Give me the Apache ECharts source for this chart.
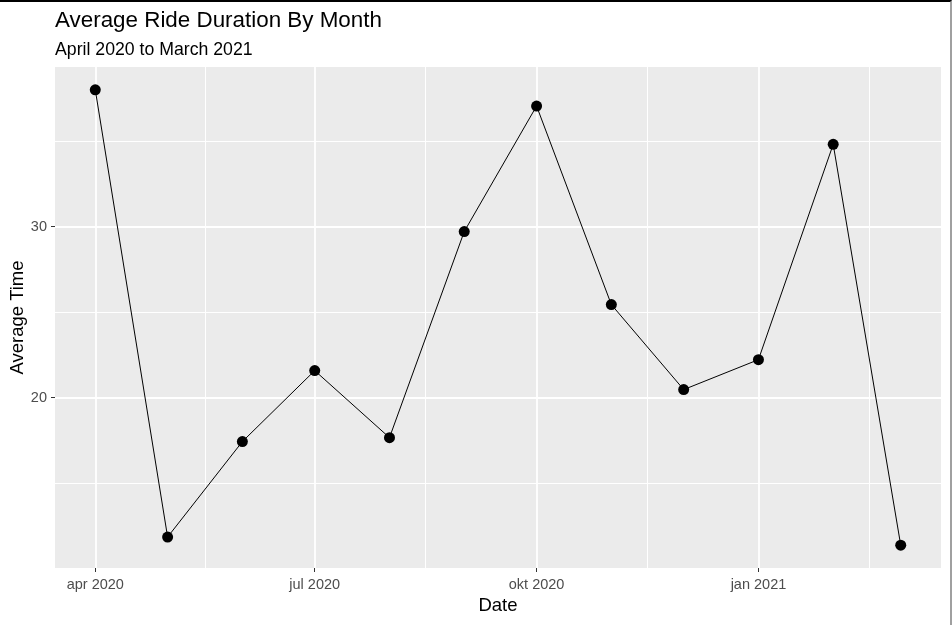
<!DOCTYPE html>
<html>
<head>
<meta charset="utf-8">
<script src="https://cdn.jsdelivr.net/npm/echarts@6/dist/echarts.min.js"></script>
<style>
html,body{margin:0;padding:0;background:#fff;}
#wrap{position:absolute;left:0;top:0;width:952px;height:625px;box-sizing:border-box;border-top:2px solid #000;border-right:2px solid #a0a0a0;}
#chart{position:absolute;left:0;top:0;width:952px;height:625px;}
</style>
</head>
<body>
<div id="wrap"></div>
<div id="chart"></div>
<script>
// ---- data ----
var months = ['2020-04-01','2020-05-01','2020-06-01','2020-07-01','2020-08-01','2020-09-01',
              '2020-10-01','2020-11-01','2020-12-01','2021-01-01','2021-02-01','2021-03-01'];
var avgTime = [38.0, 11.85, 17.43, 21.58, 17.66, 29.71, 37.05, 25.44, 20.47, 22.22, 34.81, 11.37];
var xBreaks = ['2020-04-01','2020-07-01','2020-10-01','2021-01-01'];
var xBreakLabels = ['apr 2020','jul 2020','okt 2020','jan 2021'];
var yBreaks = [20, 30];
var yMinorBreaks = [15, 25, 35];

function ts(d){ return Date.UTC(+d.slice(0,4), +d.slice(5,7)-1, +d.slice(8,10)); }
var xs = months.map(ts);
var xb = xBreaks.map(ts);
// minor x breaks: midpoints between major breaks
var xMinor = [];
for (var i=0;i<xb.length-1;i++) xMinor.push((xb[i]+xb[i+1])/2);
xMinor.push(xb[xb.length-1] + (xb[xb.length-1]-xb[xb.length-2])/2);

// ggplot-style 5% expansion
var xRange = xs[xs.length-1]-xs[0];
var xMin = xs[0]-0.05*xRange, xMax = xs[xs.length-1]+0.05*xRange;
var yLo = Math.min.apply(null,avgTime), yHi = Math.max.apply(null,avgTime);
var yMin = yLo-0.05*(yHi-yLo), yMax = yHi+0.05*(yHi-yLo);

var labelMap = {};
xb.forEach(function(v,i){ labelMap[v]=xBreakLabels[i]; });

var chart = echarts.init(document.getElementById('chart'), null, {renderer:'canvas'});
var font = 'Liberation Sans, Arial, sans-serif';

var gridLines = [];
xMinor.forEach(function(v){ gridLines.push({xAxis:v, lineStyle:{color:'#fff', width:1, type:'solid'}}); });
yMinorBreaks.forEach(function(v){ gridLines.push({yAxis:v, lineStyle:{color:'#fff', width:1, type:'solid'}}); });
xb.forEach(function(v){ gridLines.push({xAxis:v, lineStyle:{color:'#fff', width:1.8, type:'solid'}}); });
yBreaks.forEach(function(v){ gridLines.push({yAxis:v, lineStyle:{color:'#fff', width:1.8, type:'solid'}}); });

chart.setOption({
  animation:false,
  backgroundColor:'transparent',
  title:[
    {text:'Average Ride Duration By Month', left:55, top:10, padding:0,
     textStyle:{fontFamily:font, fontSize:22.4, fontWeight:'normal', color:'#000'}},
    {text:'April 2020 to March 2021', left:55, top:41, padding:0,
     textStyle:{fontFamily:font, fontSize:17.7, fontWeight:'normal', color:'#000'}}
  ],
  grid:{left:55, right:11, top:67, bottom:57, show:true, backgroundColor:'#EBEBEB', borderWidth:0,
        containLabel:false, outerBoundsMode:'none'},
  xAxis:{
    type:'value', min:xMin, max:xMax,
    name:'Date', nameLocation:'middle', nameGap:28, nameMoveOverlap:false,
    nameTextStyle:{fontFamily:font, fontSize:18.5, color:'#000'},
    axisLine:{show:false},
    axisTick:{show:true, length:4, lineStyle:{color:'#333', width:1}, customValues:xb},
    axisLabel:{show:true, margin:9, color:'#4D4D4D', fontFamily:font, fontSize:14.5, customValues:xb,
      formatter:function(v){ return labelMap[v] || ''; }},
    splitLine:{show:false}
  },
  yAxis:{
    type:'value', min:yMin, max:yMax,
    name:'Average Time', nameLocation:'middle', nameGap:28, nameMoveOverlap:false,
    nameTextStyle:{fontFamily:font, fontSize:18.5, color:'#000'},
    axisLine:{show:false},
    axisTick:{show:true, length:4, lineStyle:{color:'#333', width:1}, customValues:yBreaks},
    axisLabel:{show:true, margin:8, color:'#4D4D4D', fontFamily:font, fontSize:14.5, customValues:yBreaks},
    splitLine:{show:false}
  },
  series:[
    {type:'line', data:xs.map(function(x,i){return [x,avgTime[i]];}),
     symbol:'circle', symbolSize:11, showSymbol:true,
     lineStyle:{color:'#000', width:1}, itemStyle:{color:'#000'},
     z:3,
     markLine:{silent:true, symbol:['none','none'], label:{show:false}, z:1,
       emphasis:{disabled:true}, animation:false, data:gridLines}
    }
  ]
});
</script>
</body>
</html>
